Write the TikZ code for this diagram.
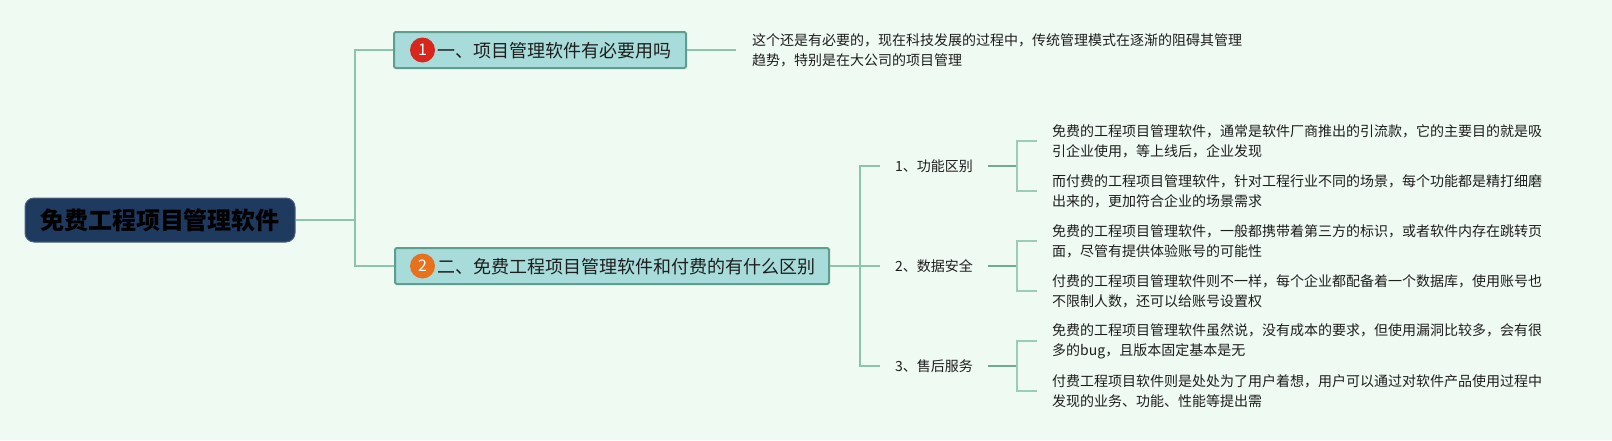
\documentclass[tikz,border=0pt]{standalone}
\usepackage{fontspec}
\setmainfont{Noto Sans CJK SC}
\definecolor{bg}{HTML}{EFFAF2}
\definecolor{rootfill}{HTML}{1F3A5F}
\definecolor{topicfill}{HTML}{A8DCDA}
\definecolor{topicdraw}{HTML}{5E9E8F}
\definecolor{mainln}{HTML}{8CC5AE}
\definecolor{subln}{HTML}{6FAA95}
\definecolor{brkln}{HTML}{9CCBB9}
\definecolor{mkred}{HTML}{D9261C}
\definecolor{mkorange}{HTML}{E8711D}
\definecolor{txt}{HTML}{1E1E1E}
\begin{document}
\begin{tikzpicture}[x=1pt,y=-1pt,
  rootbox/.style={draw=rootfill!80!white, line width=1pt, fill=rootfill, rounded corners=9pt,
    minimum width=270pt, minimum height=44pt, inner sep=0pt,
    font=\fontsize{24}{28}\selectfont\bfseries, text=black},
  topicbox/.style={draw=topicdraw, line width=2pt, fill=topicfill, rounded corners=1.5pt,
    minimum height=36pt, inner sep=0pt},
  topictext/.style={anchor=west, inner sep=0pt, font=\fontsize{18}{22}\selectfont, text=txt},
  marker/.style={circle, inner sep=0pt, minimum size=25pt, text=white,
    font=\fontsize{16}{18}\selectfont},
  sublabel/.style={anchor=west, inner xsep=15pt, inner ysep=2pt,
    font=\fontsize{14}{20}\selectfont, text=txt},
  leaf/.style={anchor=west, inner xsep=15pt, inner ysep=2pt, align=left,
    font=\fontsize{14}{20}\selectfont, text=txt},
  mainline/.style={draw=mainln, line width=2pt},
  subline/.style={draw=subln, line width=2.2pt},
  brkline/.style={draw=brkln, line width=1.8pt},
]
\fill[bg] (0,0) rectangle (1612,440);
\useasboundingbox (0,0) rectangle (1612,440);

% root
\node[rootbox] (root) at (160,220) {免费工程项目管理软件};

% topics
\node[topicbox, minimum width=292pt] (t1) at (540,50) {};
\node[marker, fill=mkred] (m1) at (422.5,50) {1};
\node[topictext] (t1txt) at (437,50.5) {一、项目管理软件有必要用吗};

\node[topicbox, minimum width=434pt] (t2) at (612,266) {};
\node[marker, fill=mkorange] (m2) at (422.5,266) {2};
\node[topictext] (t2txt) at (437,266.5) {二、免费工程项目管理软件和付费的有什么区别};

% trunk
\coordinate (trunk) at (355,220);
\draw[mainline] (root.east) -- (trunk);
\draw[mainline] (trunk) |- (t1.west);
\draw[mainline] (trunk) |- (t2.west);

% topic 1 leaf
\node[leaf, inner xsep=16pt] (l0) at (736,50)
  {这个还是有必要的，现在科技发展的过程中，传统管理模式在逐渐的阻碍其管理\\趋势，特别是在大公司的项目管理};
\draw[mainline] (t1.east) -- (l0.west);

% subtopics
\node[sublabel] (s1) at (880,166) {1、功能区别};
\node[sublabel] (s2) at (880,266) {2、数据安全};
\node[sublabel] (s3) at (880,366) {3、售后服务};
\coordinate (k) at (860,266);
\draw[mainline] (t2.east) -- (k);
\draw[mainline] (k) |- (s1.west);
\draw[mainline] (k) |- (s2.west);
\draw[mainline] (k) |- (s3.west);

% leaves
\node[leaf] (l1) at (1037,141) {免费的工程项目管理软件，通常是软件厂商推出的引流款，它的主要目的就是吸\\引企业使用，等上线后，企业发现};
\node[leaf] (l2) at (1037,191) {而付费的工程项目管理软件，针对工程行业不同的场景，每个功能都是精打细磨\\出来的，更加符合企业的场景需求};
\node[leaf] (l3) at (1037,241) {免费的工程项目管理软件，一般都携带着第三方的标识，或者软件内存在跳转页\\面，尽管有提供体验账号的可能性};
\node[leaf] (l4) at (1037,291) {付费的工程项目管理软件则不一样，每个企业都配备着一个数据库，使用账号也\\不限制人数，还可以给账号设置权};
\node[leaf] (l5) at (1037,341) {免费的工程项目管理软件虽然说，没有成本的要求，但使用漏洞比较多，会有很\\多的bug，且版本固定基本是无};
\node[leaf] (l6) at (1037,391) {付费工程项目软件则是处处为了用户着想，用户可以通过对软件产品使用过程中\\发现的业务、功能、性能等提出需};

\coordinate (j1) at (1017,166);
\coordinate (j2) at (1017,266);
\coordinate (j3) at (1017,366);
\draw[subline] (s1.east) -- (j1);
\draw[subline] (s2.east) -- (j2);
\draw[subline] (s3.east) -- (j3);
\draw[brkline] (j1) |- (l1.west);
\draw[brkline] (j1) |- (l2.west);
\draw[brkline] (j2) |- (l3.west);
\draw[brkline] (j2) |- (l4.west);
\draw[brkline] (j3) |- (l5.west);
\draw[brkline] (j3) |- (l6.west);
\end{tikzpicture}
\end{document}
